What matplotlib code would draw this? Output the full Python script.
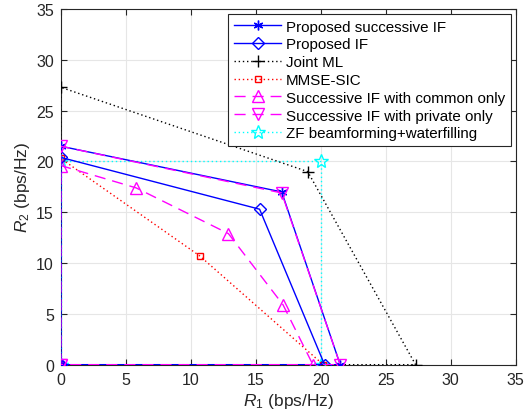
import matplotlib
matplotlib.use("Agg")
import matplotlib.pyplot as plt

plt.rcParams['font.family'] = ['Liberation Sans', 'DejaVu Sans']
plt.rcParams['mathtext.fontset'] = 'custom'
plt.rcParams['mathtext.rm'] = 'Liberation Sans'
plt.rcParams['mathtext.it'] = 'Liberation Sans:italic'

# Data: rate region vertices (R1, R2)
succ_if_r1 = [0, 0, 17.0, 21.5, 0]
succ_if_r2 = [0, 21.5, 17.0, 0, 0]

prop_if_r1 = [0, 0, 15.3, 20.3, 0]
prop_if_r2 = [0, 20.4, 15.3, 0, 0]

ml_r1 = [0, 0, 19.0, 27.3, 0]
ml_r2 = [0, 27.3, 19.0, 0, 0]

mmse_r1 = [0, 0, 10.7, 20.2, 0]
mmse_r2 = [0, 20.3, 10.7, 0, 0]

common_r1 = [0, 0, 5.8, 12.9, 17.1, 19.4, 0]
common_r2 = [0, 19.6, 17.4, 12.9, 5.9, 0, 0]

private_r1 = [0, 0, 17.0, 21.5, 0]
private_r2 = [0, 21.5, 16.9, 0, 0]

zf_r1 = [0, 0, 20.0, 20.0, 0]
zf_r2 = [0, 20.0, 20.0, 0, 0]

labels = ["Proposed successive IF", "Proposed IF", "Joint ML", "MMSE-SIC",
          "Successive IF with common only", "Successive IF with private only",
          "ZF beamforming+waterfilling"]

fig = plt.figure(figsize=(5.26, 4.14), dpi=100)
ax = fig.add_axes([0.1154, 0.1167, 0.9804 - 0.1154, 0.9758 - 0.1167])

ax.plot(succ_if_r1, succ_if_r2, color='#0000ff', lw=1.0, marker=(6, 2, 0), ms=7, mew=1.0,
        label=labels[0], zorder=5)
ax.plot(prop_if_r1, prop_if_r2, color='#0000ff', lw=1.0, marker='D', ms=6, mfc='none',
        mew=1.0, label=labels[1], zorder=5)
ax.plot(ml_r1, ml_r2, color='black', lw=1.0, ls=(0, (1, 2)), marker='+', ms=8, mew=1.0,
        label=labels[2], zorder=4)
ax.plot(mmse_r1, mmse_r2, color='#ff0000', lw=1.0, ls=(0, (1, 2)), marker='s', ms=5,
        mfc='none', mew=1.0, label=labels[3], zorder=4)
ax.plot(common_r1, common_r2, color='#ff00ff', lw=1.0, ls=(0, (8, 5)), marker='^', ms=8,
        mfc='none', mew=1.0, label=labels[4], zorder=4)
ax.plot(private_r1, private_r2, color='#ff00ff', lw=1.0, ls=(0, (8, 5)), marker='v', ms=8,
        mfc='none', mew=1.0, label=labels[5], zorder=6)
ax.plot(zf_r1, zf_r2, color='#00ffff', lw=1.0, ls=(0, (1, 2)), marker='*', ms=10,
        mfc='none', mew=1.0, label=labels[6], zorder=3)

ax.set_xlim(0, 35)
ax.set_ylim(0, 35)
ax.set_xticks(range(0, 36, 5))
ax.set_yticks(range(0, 36, 5))
ax.grid(True, color='#e6e6e6', lw=0.8)
ax.set_axisbelow(True)
ax.tick_params(direction='in', top=True, right=True, labelsize=11.5, length=4,
               colors='#262626', pad=5)
for s in ax.spines.values():
    s.set_color('#262626')
    s.set_linewidth(0.8)
for lab in ax.get_xticklabels() + ax.get_yticklabels():
    lab.set_color('#262626')

ax.set_xlabel(r'$R_1$ (bps/Hz)', fontsize=12.5, color='#262626', labelpad=3)
ax.set_ylabel(r'$R_2$ (bps/Hz)', fontsize=12.5, color='#262626', labelpad=3)

leg = ax.legend(loc='upper right', fontsize=10.9, frameon=True, fancybox=False,
                edgecolor='#262626', framealpha=1, handlelength=3.1, handletextpad=0.3,
                borderpad=0.4, labelspacing=0.25, borderaxespad=0.3)
leg.get_frame().set_linewidth(0.8)

fig.savefig('out.png', dpi=100)
